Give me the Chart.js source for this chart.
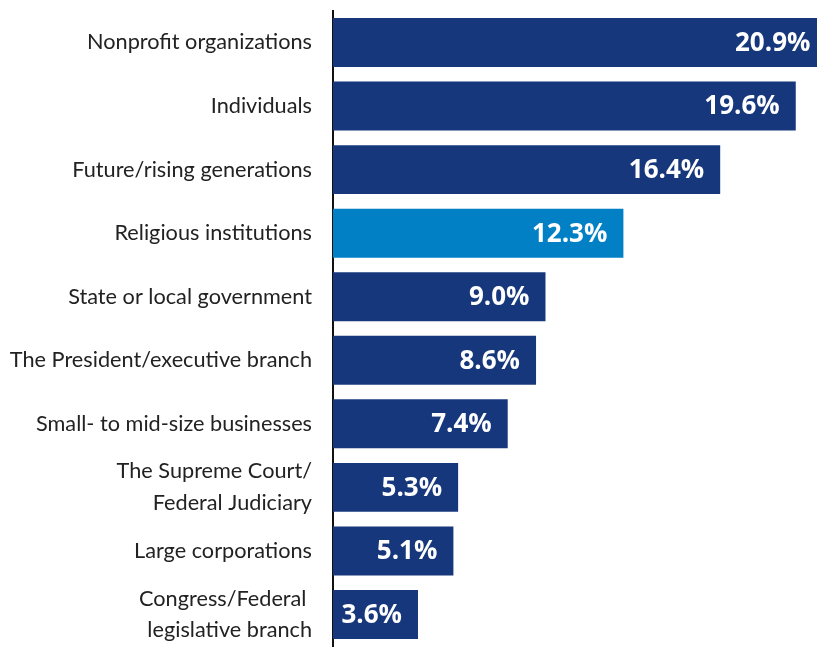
<!DOCTYPE html>
<html>
<head>
<meta charset="utf-8">
<script src="https://cdn.jsdelivr.net/npm/chart.js@4.4.1/dist/chart.umd.min.js"></script>
<style>
  html, body { margin: 0; padding: 0; background: #fff; overflow: hidden; }
  #wrap { width: 817px; height: 650px; }
</style>
</head>
<body>
<div id="wrap"><canvas id="trustChart" width="817" height="650"></canvas></div>
<script>
const categories = [
  "Nonprofit organizations",
  "Individuals",
  "Future/rising generations",
  "Religious institutions",
  "State or local government",
  "The President/executive branch",
  "Small- to mid-size businesses",
  ["The Supreme Court/", "Federal Judiciary"],
  "Large corporations",
  ["Congress/Federal ", "legislative branch"]
];
const shares = [20.9, 19.6, 16.4, 12.3, 9.0, 8.6, 7.4, 5.3, 5.1, 3.6];
const highlighted = "Religious institutions";

const NAVY = "#17377c";
const BLUE = "#0280c6";

const barColors = categories.map(c => c === highlighted ? BLUE : NAVY);

// value text sits inside the right end of each bar
const valueLabels = {
  id: "valueLabels",
  afterDatasetsDraw(chart) {
    const ctx = chart.ctx;
    const meta = chart.getDatasetMeta(0);
    ctx.save();
    ctx.fillStyle = "#ffffff";
    ctx.font = "bold 26px 'Open Sans'";
    ctx.textAlign = "right";
    ctx.textBaseline = "middle";
    meta.data.forEach((bar, i) => {
      ctx.fillText(shares[i].toFixed(1) + "%", bar.x - 16, bar.y + 1);
    });
    ctx.restore();
  }
};

new Chart(document.getElementById("trustChart"), {
  type: "bar",
  data: {
    labels: categories,
    datasets: [{
      data: shares,
      backgroundColor: barColors,
      barPercentage: 0.77,
      categoryPercentage: 1.0
    }]
  },
  options: {
    indexAxis: "y",
    responsive: false,
    animation: false,
    layout: { padding: { top: 10.7, bottom: 3.7, left: 0, right: 0 } },
    plugins: {
      legend: { display: false },
      tooltip: { enabled: false }
    },
    scales: {
      x: {
        display: false,
        min: 0,
        max: 20.5
      },
      y: {
        grid: { display: false, drawTicks: false },
        border: { display: true, color: "#111111", width: 2 },
        afterFit(scale) {
          scale.width = 333;
          // labels sit beside their bars, no extra room needed above/below
          scale.paddingTop = 0;
          scale.paddingBottom = 0;
        },
        ticks: {
          autoSkip: false,
          color: "#222222",
          padding: 21,
          font: { family: "Lato", size: 21.7, lineHeight: 1.47 }
        }
      }
    }
  },
  plugins: [valueLabels]
});
</script>
</body>
</html>
